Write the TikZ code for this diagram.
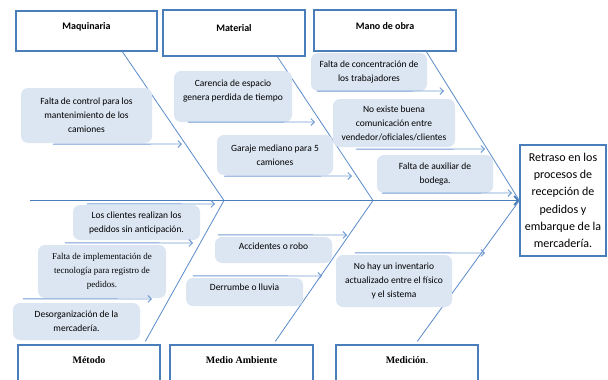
\documentclass[tikz,border=0pt]{standalone}
\usepackage{fontspec}
\setmainfont{Carlito}
\newfontfamily\serifTNR{Liberation Serif}
\usetikzlibrary{arrows.meta}
\definecolor{boxblue}{HTML}{4A7EBB}
\definecolor{bonecol}{HTML}{5B8BC9}
\definecolor{arrcol}{HTML}{739DD4}
\definecolor{causefill}{HTML}{DCE6F2}
\begin{document}
\begin{tikzpicture}[x=1pt,y=-1pt,
  headbox/.style={draw=boxblue, line width=1.3pt, fill=white, rectangle, inner sep=0pt,
    font=\fontsize{10}{12}\selectfont\bfseries, text height=7pt, text depth=10pt},
  foothead/.style={draw=boxblue, line width=1.3pt, fill=white, rectangle, inner sep=0pt,
    font=\serifTNR\fontsize{10}{12}\selectfont\bfseries, text height=7pt, text depth=21pt},
  cause/.style={fill=causefill, rounded corners=7pt, inner sep=0pt, align=center,
    font=\fontsize{9.5}{14}\selectfont},
  bone/.style={draw=bonecol, line width=0.8pt},
  carrow/.style={draw=arrcol, line width=0.9pt, -{Straight Barb[length=3.5pt,width=7pt]}},
  spine/.style={draw=boxblue, line width=1.8pt, -{Straight Barb[length=4pt,width=9pt]}},
  effect/.style={draw=boxblue, line width=1.3pt, fill=white, align=center, inner sep=0pt,
    font=\fontsize{12}{17.3}\selectfont}
]
\clip (0,0) rectangle (608,380);
\fill[white] (0,0) rectangle (608,380);

% head boxes
\node[headbox, minimum width=141pt, minimum height=40pt] (maq) at (86.5,31) {Maquinaria};
\node[headbox, minimum width=142pt, minimum height=46pt] (mat) at (234,33) {Material};
\node[headbox, minimum width=142pt, minimum height=41pt] (mano) at (385,30.5) {Mano de obra};
\node[foothead, minimum width=142pt, minimum height=50pt] (met) at (89,370) {Método};
\node[foothead, minimum width=143pt, minimum height=50pt] (med) at (241.5,370) {Medio Ambiente};
\node[foothead, minimum width=142pt, minimum height=50pt] (mdc) at (407,370) {Medición\textmd{.}};

% effect
\node[effect, minimum width=86pt, minimum height=111pt] (eff) at (563,200.5)
  {Retraso en los\\procesos de\\recepción de\\pedidos y\\embarque de la\\mercadería.};

% spine and joints
\coordinate (sp0) at (30,200.5);
\coordinate (j1) at (224,200.5);
\coordinate (j2) at (373,200.5);
\draw[spine] (sp0) -- (eff.west);

% bones
\draw[bone] ([xshift=107pt]maq.south west) -- (j1);
\draw[bone] ([xshift=115pt]mat.south west) -- (j2);
\draw[bone] ([xshift=113pt]mano.south west) -- (eff.west);
\draw[bone] ([xshift=128pt,yshift=3pt]met.north west) -- (j1);
\draw[bone] ([xshift=106pt,yshift=3pt]med.north west) -- (j2);
\draw[bone] ([xshift=82pt,yshift=3pt]mdc.north west) -- (eff.west);

% causes
\node[cause, minimum width=131pt, minimum height=55pt] (c1) at (86.5,115.5)
  {Falta de control para los\\mantenimiento de los\\camiones};
\node[cause, minimum width=118pt, minimum height=51pt, text depth=12pt] (c2) at (233,96.5)
  {Carencia de espacio\\genera perdida de tiempo};
\node[cause, minimum width=116pt, minimum height=40pt] (c3) at (275,155)
  {Garaje mediano para 5\\camiones};
\node[cause, minimum width=116pt, minimum height=38pt] (c4) at (369,72)
  {Falta de concentración de\\los trabajadores};
\node[cause, minimum width=122pt, minimum height=48pt] (c5) at (394,123)
  {No existe buena\\comunicación entre\\vendedor/oficiales/clientes};
\node[cause, minimum width=116pt, minimum height=38pt] (c6) at (435,174)
  {Falta de auxiliar de\\bodega.};
\node[cause, minimum width=127pt, minimum height=35pt] (c7) at (136.5,222.5)
  {Los clientes realizan los\\pedidos sin anticipación.};
\node[cause, minimum width=128pt, minimum height=53pt, font=\serifTNR\fontsize{9}{14}\selectfont] (c8) at (102,271.5)
  {Falta de implementación de\\tecnología para registro de\\pedidos.};
\node[cause, minimum width=127pt, minimum height=37pt] (c9) at (76.5,321.5)
  {Desorganización de la\\mercadería.};
\node[cause, minimum width=117pt, minimum height=26pt, text depth=8pt] (c10) at (273.5,250)
  {Accidentes o robo};
\node[cause, minimum width=117pt, minimum height=28pt, text depth=9pt] (c11) at (244.5,292)
  {Derrumbe o lluvia};
\node[cause, minimum width=116pt, minimum height=52pt] (c12) at (394,281)
  {No hay un inventario\\actualizado entre el físico\\y el sistema};

% arrow tips
\coordinate (t1) at (182,144);
\coordinate (t2) at (315,122);
\coordinate (t3) at (352,176);
\coordinate (t4) at (444,91);
\coordinate (t5) at (485,149);
\coordinate (t6) at (512,193);
\coordinate (t7) at (215,204);
\coordinate (t8) at (193,243);
\coordinate (t9) at (152,299);
\coordinate (t10) at (347,235);
\coordinate (t11) at (322,276);
\coordinate (t12) at (485,253);

\draw[carrow] ([xshift=32pt,yshift=-1pt]c1.south west) -- (t1);
\draw[carrow] ([xshift=14pt]c2.south west) -- (t2);
\draw[carrow] ([xshift=7pt,yshift=-1pt]c3.south west) -- (t3);
\draw[carrow] ([xshift=6pt]c4.south west) -- (t4);
\draw[carrow] ([xshift=23pt,yshift=-2pt]c5.south west) -- (t5);
\draw[carrow] ([xshift=5pt]c6.south west) -- (t6);
\draw[carrow] ([xshift=14pt,yshift=1pt]c7.north west) -- (t7);
\draw[carrow] ([xshift=27pt,yshift=2pt]c8.north west) -- (t8);
\draw[carrow] ([xshift=10pt,yshift=4pt]c9.north west) -- (t9);
\draw[carrow] ([xshift=3pt,yshift=2pt]c10.north west) -- (t10);
\draw[carrow] ([xshift=7pt,yshift=2pt]c11.north west) -- (t11);
\draw[carrow] ([xshift=19pt,yshift=2pt]c12.north west) -- (t12);
\end{tikzpicture}
\end{document}
